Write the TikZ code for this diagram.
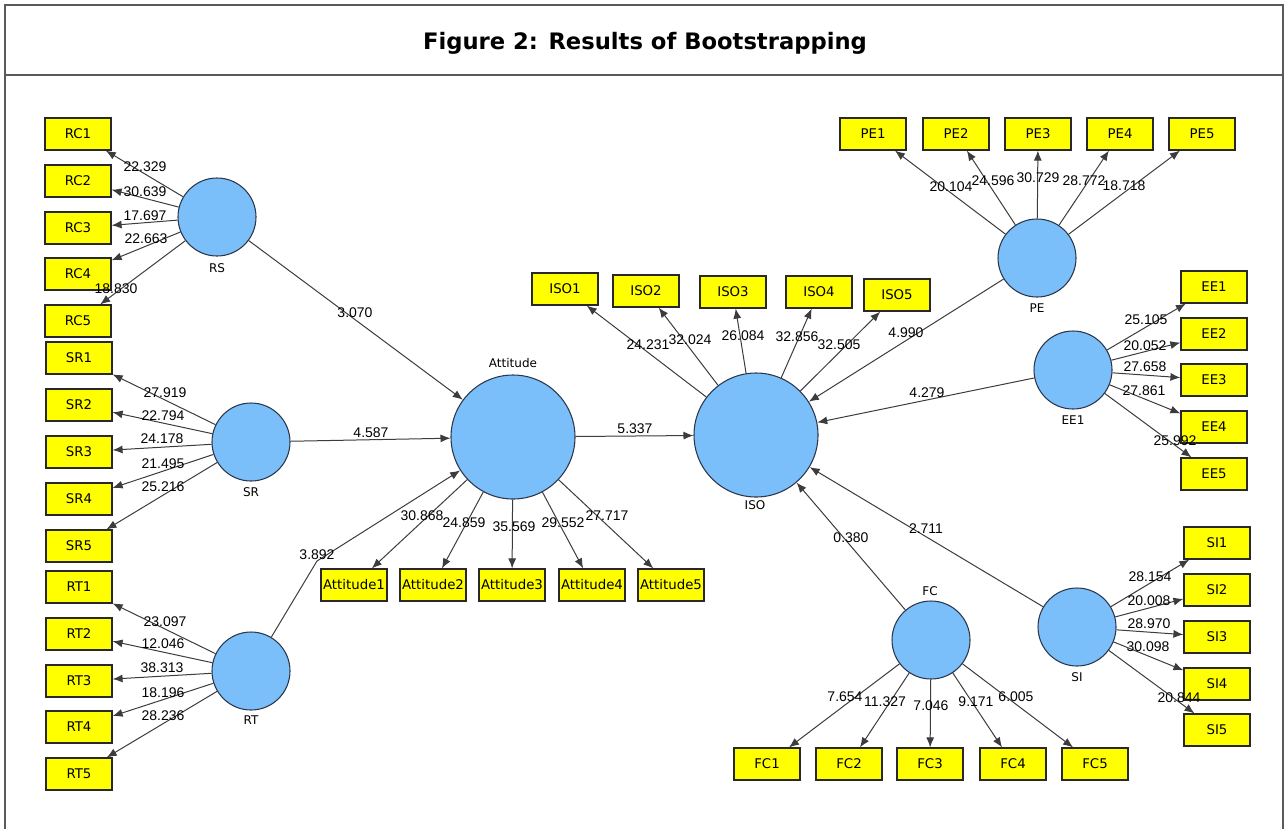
\documentclass[tikz,border=0pt]{standalone}
\usepackage{fontspec}
\setmainfont{DejaVu Sans}
\newfontfamily\lblfont{Liberation Sans}
\usetikzlibrary{arrows.meta}
\definecolor{lat}{RGB}{122,190,250}
\definecolor{latb}{RGB}{45,55,75}
\definecolor{boxb}{RGB}{40,40,40}
\definecolor{edgec}{RGB}{60,60,60}
\definecolor{framec}{RGB}{90,90,90}
\definecolor{yel}{RGB}{255,255,0}
\begin{document}
\begin{tikzpicture}[x=0.75pt,y=-0.75pt,
  lv/.style={circle, draw=latb, fill=lat, line width=0.8pt, minimum size=58.5pt, inner sep=0pt},
  biglv/.style={lv, minimum size=93pt},
  ind/.style={rectangle, draw=boxb, fill=yel, line width=0.9pt, minimum width=49.5pt, minimum height=24pt, inner sep=0pt, font=\fontsize{10}{12}\selectfont},
  lbl/.style={font=\lblfont\fontsize{10.5}{12}\selectfont, inner sep=0pt, text=black},
  lvname/.style={font=\fontsize{9}{11}\selectfont, inner sep=0pt},
  arr/.style={draw=edgec, line width=0.75pt, -{Latex[length=7.5pt,width=6pt]}},
  frame/.style={draw=framec, line width=1.1pt}
]
\useasboundingbox (0,0) rectangle (1287,829);
% frame
\draw[frame] (5,829) -- (5,5) -- (1283,5) -- (1283,829);
\draw[frame] (5,75) -- (1283,75);
\node (title) at (645,43) {\fontsize{17}{20}\selectfont\bfseries Figure 2: Results of Bootstrapping};

% latent variables
\node[lv] (RS) at (217,217) {};
\node[lvname] (tRS) at (217,268) {RS};
\node[lv] (SR) at (251,442) {};
\node[lvname] (tSR) at (251,492) {SR};
\node[lv] (RT) at (251,671) {};
\node[lvname] (tRT) at (251,720) {RT};
\node[biglv] (Att) at (513,437) {};
\node[lvname] (tAtt) at (513,363) {Attitude};
\node[biglv] (ISO) at (756,435) {};
\node[lvname] (tISO) at (755,505) {ISO};
\node[lv] (PE) at (1037,258) {};
\node[lvname] (tPE) at (1037,308) {PE};
\node[lv] (EE) at (1073,370) {};
\node[lvname] (tEE) at (1073,420) {EE1};
\node[lv] (FC) at (931,640) {};
\node[lvname] (tFC) at (930,591) {FC};
\node[lv] (SI) at (1077,627) {};
\node[lvname] (tSI) at (1077,677) {SI};

% RC indicators
\foreach \i/\y/\v/\lx/\ly in {1/134/22.329/145/167, 2/181/30.639/145/192, 3/228/17.697/145/216, 4/274/22.663/146/239, 5/321/18.830/116/289}{
  \node[ind] (RC\i) at (78,\y) {RC\i};
  \draw[arr] (RS) -- (RC\i);
  \node[lbl] (lRC\i) at (\lx,\ly) {\v};
}
% SR indicators
\foreach \i/\y/\v/\lx/\ly in {1/358/27.919/165/393, 2/405/22.794/163/416, 3/452/24.178/162/439, 4/499/21.495/163/464, 5/546/25.216/163/487}{
  \node[ind] (SR\i) at (79,\y) {SR\i};
  \draw[arr] (SR) -- (SR\i);
  \node[lbl] (lSR\i) at (\lx,\ly) {\v};
}
% RT indicators
\foreach \i/\y/\v/\lx/\ly in {1/587/23.097/165/622, 2/634/12.046/163/644, 3/681/38.313/162/668, 4/727/18.196/163/693, 5/774/28.236/163/716}{
  \node[ind] (RT\i) at (79,\y) {RT\i};
  \draw[arr] (RT) -- (RT\i);
  \node[lbl] (lRT\i) at (\lx,\ly) {\v};
}
% Attitude indicators
\foreach \i/\x/\v/\lx/\ly in {1/354/30.868/422/516, 2/433/24.859/464/523, 3/512/35.569/514/527, 4/592/29.552/563/523, 5/671/27.717/607/516}{
  \node[ind] (At\i) at (\x,585) {Attitude\i};
  \draw[arr] (Att) -- (At\i);
  \node[lbl] (lAt\i) at (\lx,\ly) {\v};
}
% ISO indicators
\foreach \i/\x/\y/\v/\lx/\ly in {1/565/289/24.231/648/345, 2/646/291/32.024/690/340, 3/733/292/26.084/743/336, 4/819/292/32.856/797/337, 5/897/295/32.505/839/345}{
  \node[ind] (IS\i) at (\x,\y) {ISO\i};
  \draw[arr] (ISO) -- (IS\i);
  \node[lbl] (lIS\i) at (\lx,\ly) {\v};
}
% PE indicators
\foreach \i/\x/\v/\lx/\ly in {1/873/20.104/951/187, 2/956/24.596/993/181, 3/1038/30.729/1038/178, 4/1120/28.772/1084/181, 5/1202/18.718/1124/186}{
  \node[ind] (PE\i) at (\x,134) {PE\i};
  \draw[arr] (PE) -- (PE\i);
  \node[lbl] (lPE\i) at (\lx,\ly) {\v};
}
% EE indicators
\foreach \i/\y/\v/\lx/\ly in {1/287/25.105/1146/320, 2/334/20.052/1145/346, 3/380/27.658/1145/367, 4/427/27.861/1144/391, 5/474/25.992/1175/441}{
  \node[ind] (EE\i) at (1214,\y) {EE\i};
  \draw[arr] (EE) -- (EE\i);
  \node[lbl] (lEE\i) at (\lx,\ly) {\v};
}
% FC indicators
\foreach \i/\x/\v/\lx/\ly in {1/767/7.654/845/697, 2/849/11.327/885/702, 3/930/7.046/931/706, 4/1013/9.171/976/702, 5/1095/6.005/1016/697}{
  \node[ind] (FC\i) at (\x,764) {FC\i};
  \draw[arr] (FC) -- (FC\i);
  \node[lbl] (lFC\i) at (\lx,\ly) {\v};
}
% SI indicators
\foreach \i/\y/\v/\lx/\ly in {1/543/28.154/1150/577, 2/590/20.008/1149/601, 3/637/28.970/1149/624, 4/684/30.098/1148/647, 5/730/20.844/1179/698}{
  \node[ind] (SI\i) at (1217,\y) {SI\i};
  \draw[arr] (SI) -- (SI\i);
  \node[lbl] (lSI\i) at (\lx,\ly) {\v};
}

% structural paths
\coordinate (bend) at (317,561);
\draw[arr] (RS) -- (Att);
\node[lbl] (p1) at (355,313) {3.070};
\draw[arr] (SR) -- (Att);
\node[lbl] (p2) at (371,433) {4.587};
\draw[arr] (RT) -- (bend) -- (Att);
\node[lbl] (p3) at (317,555) {3.892};
\draw[arr] (Att) -- (ISO);
\node[lbl] (p4) at (635,429) {5.337};
\draw[arr] (PE) -- (ISO);
\node[lbl] (p5) at (906,333) {4.990};
\draw[arr] (EE) -- (ISO);
\node[lbl] (p6) at (927,393) {4.279};
\draw[arr] (FC) -- (ISO);
\node[lbl] (p7) at (851,538) {0.380};
\draw[arr] (SI) -- (ISO);
\node[lbl] (p8) at (926,529) {2.711};
\end{tikzpicture}
\end{document}
